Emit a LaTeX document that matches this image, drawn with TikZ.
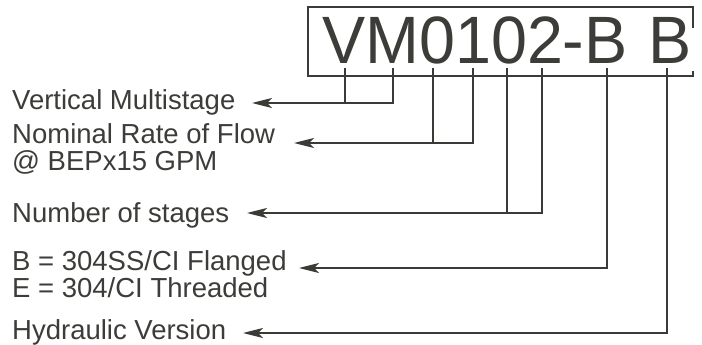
\documentclass[tikz,border=0pt]{standalone}
\usepackage{fontspec}
\setmainfont{Liberation Sans}
\newfontfamily\bigfont[FakeStretch=0.965]{Liberation Sans}
\usetikzlibrary{arrows.meta}
\definecolor{ink}{HTML}{3A3A36}
\definecolor{txt}{HTML}{3C3C39}
\begin{document}
\begin{tikzpicture}[x=1pt,y=-1pt,
  line/.style={draw=ink,line width=1.6pt},
  arr/.style={line,-{Stealth[length=20pt,width=10pt,inset=5pt]}},
  lab/.style={anchor=base west,inner sep=0pt,text=txt,align=left,
    font=\fontsize{27.5}{24.5}\selectfont},
  big/.style={anchor=base west,inner sep=0pt,text=txt,font=\bigfont\fontsize{67}{67}\selectfont}]
\useasboundingbox[fill=white] (0,0) rectangle (702,345);
% code box
\draw[line] (693,28) -- (693,7) -- (308,7) -- (308,76) -- (693,76) -- (693,71);
\node[big] (code) at (322,64) {VM0102-B};
\node[big] (code2) at (648,64) {B};
% labels (multi-line nodes are placed by the baseline of their last line)
\node[lab] (l1) at (12,110) {Vertical Multistage};
\node[lab] (l2) at (12,170) {Nominal Rate of Flow\\[2pt]@ BEPx15 GPM};
\node[lab] (l3) at (12,222) {Number of stages};
\node[lab] (l4) at (12,297) {B = 304SS/CI Flanged\\E = 304/CI Threaded};
\node[lab] (l5) at (12,339) {Hydraulic Version};
% tick tops
\coordinate (a1) at (345,68); \coordinate (a2) at (393,68);
\coordinate (b1) at (433,68); \coordinate (b2) at (473,68);
\coordinate (c1) at (507,68); \coordinate (c2) at (542,68);
\coordinate (d1) at (607,68);
\coordinate (e1) at (667,68);
% junctions and arrow tips
\coordinate (ja) at (345,103); \coordinate (ta) at (252,103);
\coordinate (jb) at (433,143); \coordinate (tb) at (294,143);
\coordinate (jc) at (507,213); \coordinate (tc) at (247,213);
\coordinate (jd) at (607,268); \coordinate (td) at (299,268);
\coordinate (je) at (667,333); \coordinate (te) at (243,333);
% connectors
\draw[line] (a1) -- (ja) -| (a2);
\draw[arr] (ja) -- (ta);
\draw[line] (b1) -- (jb) -| (b2);
\draw[arr] (jb) -- (tb);
\draw[line] (c1) -- (jc) -| (c2);
\draw[arr] (jc) -- (tc);
\draw[arr] (d1) |- (td);
\draw[arr] (e1) |- (te);
\end{tikzpicture}
\end{document}
